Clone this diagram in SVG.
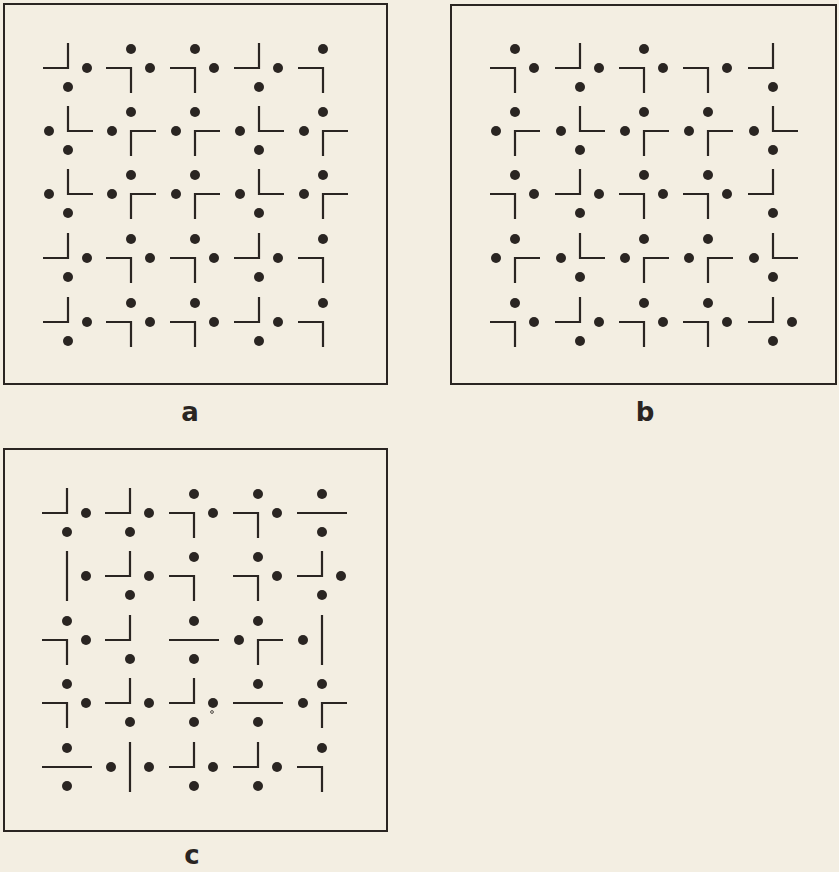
<svg xmlns="http://www.w3.org/2000/svg" width="839" height="872" viewBox="0 0 839 872">
<style>
.frame{fill:none;stroke:#2a2522;stroke-width:2}
.ln{fill:none;stroke:#2a2522;stroke-width:2.2;stroke-linejoin:miter}
.dt{fill:#2a2522}
.lbl{font-family:"DejaVu Sans","Liberation Sans",sans-serif;font-size:26px;font-weight:bold;fill:#2a2522;text-anchor:middle}
</style>
<rect x="0" y="0" width="839" height="872" fill="#f3eee2"/>

<g id="panel-a">
<rect class="frame" x="4" y="4" width="383" height="380"/>
<path class="ln" d="M43 68H68V43 M106 68H131V93 M170 68H195V93 M234 68H259V43 M298 68H323V93
M68 106V131H93 M156 131H131V156 M220 131H195V156 M259 106V131H284 M348 131H323V156
M68 169V194H93 M156 194H131V219 M220 194H195V219 M259 169V194H284 M348 194H323V219
M43 258H68V233 M106 258H131V283 M170 258H195V283 M234 258H259V233 M298 258H323V283
M43 322H68V297 M106 322H131V347 M170 322H195V347 M234 322H259V297 M298 322H323V347"/>
<g class="dt">
<circle cx="87" cy="68" r="5"/><circle cx="68" cy="87" r="5"/><circle cx="131" cy="49" r="5"/><circle cx="150" cy="68" r="5"/><circle cx="195" cy="49" r="5"/><circle cx="214" cy="68" r="5"/><circle cx="278" cy="68" r="5"/><circle cx="259" cy="87" r="5"/><circle cx="323" cy="49" r="5"/>
<circle cx="49" cy="131" r="5"/><circle cx="68" cy="150" r="5"/><circle cx="131" cy="112" r="5"/><circle cx="112" cy="131" r="5"/><circle cx="195" cy="112" r="5"/><circle cx="176" cy="131" r="5"/><circle cx="240" cy="131" r="5"/><circle cx="259" cy="150" r="5"/><circle cx="323" cy="112" r="5"/><circle cx="304" cy="131" r="5"/>
<circle cx="49" cy="194" r="5"/><circle cx="68" cy="213" r="5"/><circle cx="131" cy="175" r="5"/><circle cx="112" cy="194" r="5"/><circle cx="195" cy="175" r="5"/><circle cx="176" cy="194" r="5"/><circle cx="240" cy="194" r="5"/><circle cx="259" cy="213" r="5"/><circle cx="323" cy="175" r="5"/><circle cx="304" cy="194" r="5"/>
<circle cx="87" cy="258" r="5"/><circle cx="68" cy="277" r="5"/><circle cx="131" cy="239" r="5"/><circle cx="150" cy="258" r="5"/><circle cx="195" cy="239" r="5"/><circle cx="214" cy="258" r="5"/><circle cx="278" cy="258" r="5"/><circle cx="259" cy="277" r="5"/><circle cx="323" cy="239" r="5"/>
<circle cx="87" cy="322" r="5"/><circle cx="68" cy="341" r="5"/><circle cx="131" cy="303" r="5"/><circle cx="150" cy="322" r="5"/><circle cx="195" cy="303" r="5"/><circle cx="214" cy="322" r="5"/><circle cx="278" cy="322" r="5"/><circle cx="259" cy="341" r="5"/><circle cx="323" cy="303" r="5"/>
</g>
<text class="lbl" x="190" y="421">a</text>
</g>

<g id="panel-b">
<rect class="frame" x="451" y="5" width="385" height="379"/>
<path class="ln" d="M490 68H515V93 M555 68H580V43 M619 68H644V93 M683 68H708V93 M748 68H773V43
M540 131H515V156 M580 106V131H605 M669 131H644V156 M733 131H708V156 M773 106V131H798
M490 194H515V219 M555 194H580V169 M619 194H644V219 M683 194H708V219 M748 194H773V169
M540 258H515V283 M580 233V258H605 M669 258H644V283 M733 258H708V283 M773 233V258H798
M490 322H515V347 M555 322H580V297 M619 322H644V347 M683 322H708V347 M748 322H773V297"/>
<g class="dt">
<circle cx="515" cy="49" r="5"/><circle cx="534" cy="68" r="5"/><circle cx="599" cy="68" r="5"/><circle cx="580" cy="87" r="5"/><circle cx="644" cy="49" r="5"/><circle cx="663" cy="68" r="5"/><circle cx="727" cy="68" r="5"/><circle cx="773" cy="87" r="5"/>
<circle cx="515" cy="112" r="5"/><circle cx="496" cy="131" r="5"/><circle cx="561" cy="131" r="5"/><circle cx="580" cy="150" r="5"/><circle cx="644" cy="112" r="5"/><circle cx="625" cy="131" r="5"/><circle cx="708" cy="112" r="5"/><circle cx="689" cy="131" r="5"/><circle cx="754" cy="131" r="5"/><circle cx="773" cy="150" r="5"/>
<circle cx="515" cy="175" r="5"/><circle cx="534" cy="194" r="5"/><circle cx="599" cy="194" r="5"/><circle cx="580" cy="213" r="5"/><circle cx="644" cy="175" r="5"/><circle cx="663" cy="194" r="5"/><circle cx="708" cy="175" r="5"/><circle cx="727" cy="194" r="5"/><circle cx="773" cy="213" r="5"/>
<circle cx="515" cy="239" r="5"/><circle cx="496" cy="258" r="5"/><circle cx="561" cy="258" r="5"/><circle cx="580" cy="277" r="5"/><circle cx="644" cy="239" r="5"/><circle cx="625" cy="258" r="5"/><circle cx="708" cy="239" r="5"/><circle cx="689" cy="258" r="5"/><circle cx="754" cy="258" r="5"/><circle cx="773" cy="277" r="5"/>
<circle cx="515" cy="303" r="5"/><circle cx="534" cy="322" r="5"/><circle cx="599" cy="322" r="5"/><circle cx="580" cy="341" r="5"/><circle cx="644" cy="303" r="5"/><circle cx="663" cy="322" r="5"/><circle cx="708" cy="303" r="5"/><circle cx="727" cy="322" r="5"/><circle cx="792" cy="322" r="5"/><circle cx="773" cy="341" r="5"/>
</g>
<text class="lbl" x="645" y="421">b</text>
</g>

<g id="panel-c">
<rect class="frame" x="4" y="449" width="383" height="382"/>
<path class="ln" d="M42 513H67V488 M105 513H130V488 M169 513H194V538 M233 513H258V538 M297 513H347
M67 551V601 M105 576H130V551 M169 576H194V601 M233 576H258V601 M297 576H322V551
M42 640H67V665 M105 640H130V615 M169 640H219 M283 640H258V665 M322 615V665
M42 703H67V728 M105 703H130V678 M169 703H194V678 M233 703H283 M347 703H322V728
M42 767H92 M130 742V792 M169 767H194V742 M233 767H258V742 M297 767H322V792"/>
<g class="dt">
<circle cx="86" cy="513" r="5"/><circle cx="67" cy="532" r="5"/><circle cx="149" cy="513" r="5"/><circle cx="130" cy="532" r="5"/><circle cx="194" cy="494" r="5"/><circle cx="213" cy="513" r="5"/><circle cx="258" cy="494" r="5"/><circle cx="277" cy="513" r="5"/><circle cx="322" cy="494" r="5"/><circle cx="322" cy="532" r="5"/>
<circle cx="86" cy="576" r="5"/><circle cx="149" cy="576" r="5"/><circle cx="130" cy="595" r="5"/><circle cx="194" cy="557" r="5"/><circle cx="258" cy="557" r="5"/><circle cx="277" cy="576" r="5"/><circle cx="341" cy="576" r="5"/><circle cx="322" cy="595" r="5"/>
<circle cx="67" cy="621" r="5"/><circle cx="86" cy="640" r="5"/><circle cx="130" cy="659" r="5"/><circle cx="194" cy="621" r="5"/><circle cx="194" cy="659" r="5"/><circle cx="258" cy="621" r="5"/><circle cx="239" cy="640" r="5"/><circle cx="303" cy="640" r="5"/>
<circle cx="67" cy="684" r="5"/><circle cx="86" cy="703" r="5"/><circle cx="149" cy="703" r="5"/><circle cx="130" cy="722" r="5"/><circle cx="213" cy="703" r="5"/><circle cx="194" cy="722" r="5"/><circle cx="258" cy="684" r="5"/><circle cx="258" cy="722" r="5"/><circle cx="322" cy="684" r="5"/><circle cx="303" cy="703" r="5"/>
<circle cx="67" cy="748" r="5"/><circle cx="67" cy="786" r="5"/><circle cx="111" cy="767" r="5"/><circle cx="149" cy="767" r="5"/><circle cx="213" cy="767" r="5"/><circle cx="194" cy="786" r="5"/><circle cx="277" cy="767" r="5"/><circle cx="258" cy="786" r="5"/><circle cx="322" cy="748" r="5"/>
</g>
<circle cx="212" cy="712" r="1.4" fill="none" stroke="#2a2522" stroke-width="0.8"/>
<text class="lbl" x="192" y="864">c</text>
</g>
</svg>
